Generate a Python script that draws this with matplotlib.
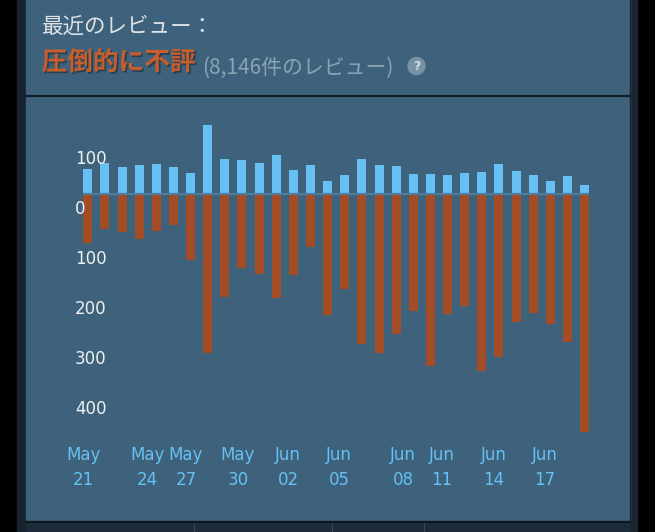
import numpy as np
import matplotlib
matplotlib.use("Agg")
import matplotlib.pyplot as plt
import matplotlib.patheffects as pe
from matplotlib.patches import Rectangle, Circle

# daily review counts, May 21 - Jun 19
positive = [51, 63, 54, 59, 60, 54, 42, 139, 70, 68, 62, 78, 48, 58, 27,
            39, 71, 59, 57, 41, 41, 39, 42, 45, 61, 47, 39, 27, 37, 19]
negative = [97, 70, 75, 89, 73, 62, 131, 317, 206, 147, 159, 207, 161, 105, 242,
            190, 299, 317, 280, 233, 343, 239, 223, 353, 325, 255, 237, 259, 295, 476]
date_labels = ["May\n21", "May\n24", "May\n27", "May\n30", "Jun\n02",
               "Jun\n05", "Jun\n08", "Jun\n11", "Jun\n14", "Jun\n17"]
# where the date labels sit, in bar-index units (as on the original)
date_pos = [-0.27, 3.5, 5.73, 8.77, 11.69, 14.66, 18.4, 20.68, 23.72, 26.7]
y_ticks = [100, 0, -100, -200, -300, -400]

W, H = 655, 532
fig = plt.figure(figsize=(W / 100, H / 100), dpi=100, facecolor="black")

# background in pixel coordinates
bg = fig.add_axes([0, 0, 1, 1])
bg.set_xlim(0, W)
bg.set_ylim(H, 0)
bg.axis("off")
bg.add_patch(Rectangle((17, 0), 9, H, color="#18222e"))
bg.add_patch(Rectangle((629, 0), 8, H, color="#1a2531"))
bg.add_patch(Rectangle((26, 0), 603.5, 521, color="#3e627b"))
bg.add_patch(Rectangle((26, 521), 603.5, 11, color="#1d2a39"))
bg.plot([26, 629.5], [521.8, 521.8], color="#0f1720", lw=1.5)
for xv in [194, 332, 424]:
    bg.plot([xv, xv], [523, H], color="#34495c", lw=0.8)
bg.plot([629.5, 629.5], [0, 521], color="#1b2633", lw=1)
bg.plot([26, 629.5], [96, 96], color="#121c26", lw=1.6)

jp = ["Noto Sans CJK JP", "DejaVu Sans"]
bg.text(42, 32.8, "最近のレビュー：", family=jp, fontsize=15.5,
        color="#dfe3e6", va="baseline", ha="left")
bg.text(41.5, 70, "圧倒的に不評", family=jp, fontsize=18.5, weight="bold",
        color="#c65d2d", va="baseline", ha="left",
        path_effects=[pe.withSimplePatchShadow(offset=(1.2, -1.2),
                                               shadow_rgbFace="black", alpha=0.35)])
bg.text(202, 73.3, "(8,146件のレビュー)", family=jp, fontsize=15,
        color="#8ca3b4", va="baseline", ha="left")
bg.add_patch(Circle((416.5, 66), 8.5, color="#7892a5"))
bg.text(416.5, 66.5, "?", family=["DejaVu Sans"], fontsize=9, weight="bold",
        color="#d2dce4", ha="center", va="center")

# chart axes: 17.13 px per day, 0.5 px per review, zero line at y=194
left, right, top, bottom = 70, 600, 110, 440
ax = fig.add_axes([left / W, (H - bottom) / H, (right - left) / W, (bottom - top) / H])
ax.patch.set_alpha(0)
for s in ax.spines.values():
    s.set_visible(False)
px_day, x0 = 17.13, 87.8
ax.set_xlim((left - x0) / px_day, (right - x0) / px_day)
ax.set_ylim(-(bottom - 194) * 2, (194 - top) * 2)

idx = np.arange(len(positive))
bw = 0.525
ax.bar(idx, positive, width=bw, color="#66c0f4", zorder=2)
ax.bar(idx, -np.array(negative), width=bw, color="#a34c25", zorder=2)
ax.hlines(0, idx[0] - bw / 2, idx[-1] + bw / 2, color="#4b7e9f", lw=1.6, zorder=3)

ax.set_yticks([])
for v in y_ticks:
    ax.annotate(str(abs(v)), xy=((75 - x0) / px_day, v), xytext=(0, -20 * 0.72),
                textcoords="offset points", color="#f0f0f0", fontsize=12,
                ha="left", va="baseline", family=["DejaVu Sans"])

ax.set_xticks(date_pos)
ax.set_xticklabels(date_labels, color="#66c0f4", fontsize=12,
                   family=["DejaVu Sans"], linespacing=1.5)
ax.tick_params(axis="x", length=0, pad=4.3)

fig.savefig("out.png", dpi=100, facecolor="black")
